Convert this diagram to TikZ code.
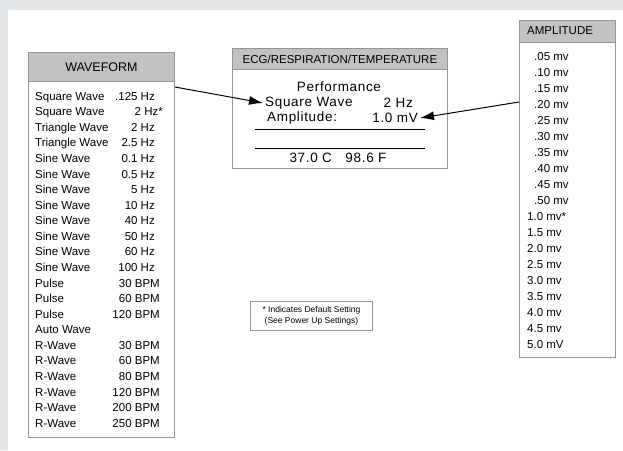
\documentclass[tikz,border=0pt]{standalone}
\usepackage{fontspec}
\setmainfont{Liberation Sans}
\usetikzlibrary{arrows.meta, positioning, calc}
\definecolor{bggray}{RGB}{226,229,233}
\definecolor{hdgray}{RGB}{194,194,194}
\definecolor{bdgray}{RGB}{150,150,150}

\tikzset{
  listbox/.style={draw=bdgray, line width=0.9pt, fill=white, anchor=north west, inner sep=0pt},
  headbox/.style={draw=bdgray, line width=0.9pt, fill=hdgray, anchor=north west, inner sep=0pt},
  row/.style={inner sep=0pt, font=\fontsize{11.5}{13}\selectfont},
  ecgtxt/.style={inner sep=0pt, font=\fontsize{13.5}{15}\selectfont\addfontfeatures{LetterSpace=5}},
  pointer/.style={-{Latex[length=14pt, width=9pt]}, line width=1pt},
}

\begin{document}
\begin{tikzpicture}[x=1pt, y=-1pt]
  % grey frame of the page
  \fill[bggray] (0,0) rectangle (623,450);
  \fill[white] (8,10) rectangle (623,450);
  \useasboundingbox (0,0) rectangle (623,450);

  % waveform list
  \node[listbox, minimum width=146pt, minimum height=385pt] (wavebox) at (28,52) {};
  \node[headbox, minimum width=146pt, minimum height=29pt,
        font=\fontsize{12.5}{14}\selectfont] (wavehead) at (28,52) {WAVEFORM};
  \foreach \lbl/\val/\xr [count=\i from 0] in {
      Square Wave/.125 Hz/155, Square Wave/2 Hz*/163,
      Triangle Wave/2 Hz/155, Triangle Wave/2.5 Hz/155,
      Sine Wave/0.1 Hz/155, Sine Wave/0.5 Hz/155, Sine Wave/5 Hz/155,
      Sine Wave/10 Hz/155, Sine Wave/40 Hz/155, Sine Wave/50 Hz/155,
      Sine Wave/60 Hz/155, Sine Wave/100 Hz/155,
      Pulse/30 BPM/160, Pulse/60 BPM/160, Pulse/120 BPM/160,
      Auto Wave//160,
      R-Wave/30 BPM/160, R-Wave/60 BPM/160, R-Wave/80 BPM/160,
      R-Wave/120 BPM/160, R-Wave/200 BPM/160, R-Wave/250 BPM/160} {
    \node[row, anchor=base west] (wl\i) at (35, {100.2+15.57*\i}) {\lbl};
    \node[row, anchor=base east] (wv\i) at (\xr, {100.2+15.57*\i}) {\val};
  }

  % monitor screen
  \node[listbox, minimum width=215pt, minimum height=120pt] (ecgbox) at (232,48) {};
  \node[headbox, minimum width=215pt, minimum height=21pt,
        font=\fontsize{11.5}{13}\selectfont] (ecghead) at (232,48) {ECG/RESPIRATION/TEMPERATURE};
  \node[ecgtxt] (perf) at (339,87) {Performance};
  \node[ecgtxt, anchor=west, inner xsep=2pt] (sqlbl) at (263,103) {Square Wave};
  \node[ecgtxt, anchor=east] (sqval) at (413,103) {2 Hz};
  \node[ecgtxt, anchor=west] (amplbl) at (267,118) {Amplitude:};
  \node[ecgtxt, anchor=east, inner xsep=2pt] (mvval) at (420,118) {1.0 mV};
  \draw[line width=1pt] (255,129) -- (425,129);
  \draw[line width=1pt] (255,148) -- (425,148);
  \node[ecgtxt] (temp) at (338,158) {37.0 C\quad 98.6 F};

  % amplitude list
  \node[listbox, minimum width=96pt, minimum height=337pt] (ampbox) at (519,20) {};
  \node[headbox, minimum width=96pt, minimum height=22pt] (amphead) at (519,20) {};
  \node[row, anchor=west] (ampttl) at (527,31) {AMPLITUDE};
  \foreach \val/\xl [count=\i from 0] in {
      .05 mv/534, .10 mv/534, .15 mv/534, .20 mv/534, .25 mv/534,
      .30 mv/534, .35 mv/534, .40 mv/534, .45 mv/534, .50 mv/534,
      1.0 mv*/527, 1.5 mv/527, 2.0 mv/527, 2.5 mv/527, 3.0 mv/527,
      3.5 mv/527, 4.0 mv/527, 4.5 mv/527, 5.0 mV/527} {
    \node[row, anchor=base west] (av\i) at (\xl, {60.2+16*\i}) {\val};
  }

  % footnote
  \node[listbox, minimum width=122pt, minimum height=29pt, align=center,
        font=\fontsize{8.5}{11}\selectfont] (note) at (250,301)
        {* Indicates Default Setting\\(See Power Up Settings)};

  % pointers into the screen
  \coordinate (waveout) at (wavebox.east |- 0,87);
  \coordinate (ampout) at (ampbox.west |- 0,102);
  \draw[pointer] (waveout) -- (sqlbl.west);
  \draw[pointer] (ampout) -- (mvval.east);
\end{tikzpicture}
\end{document}
